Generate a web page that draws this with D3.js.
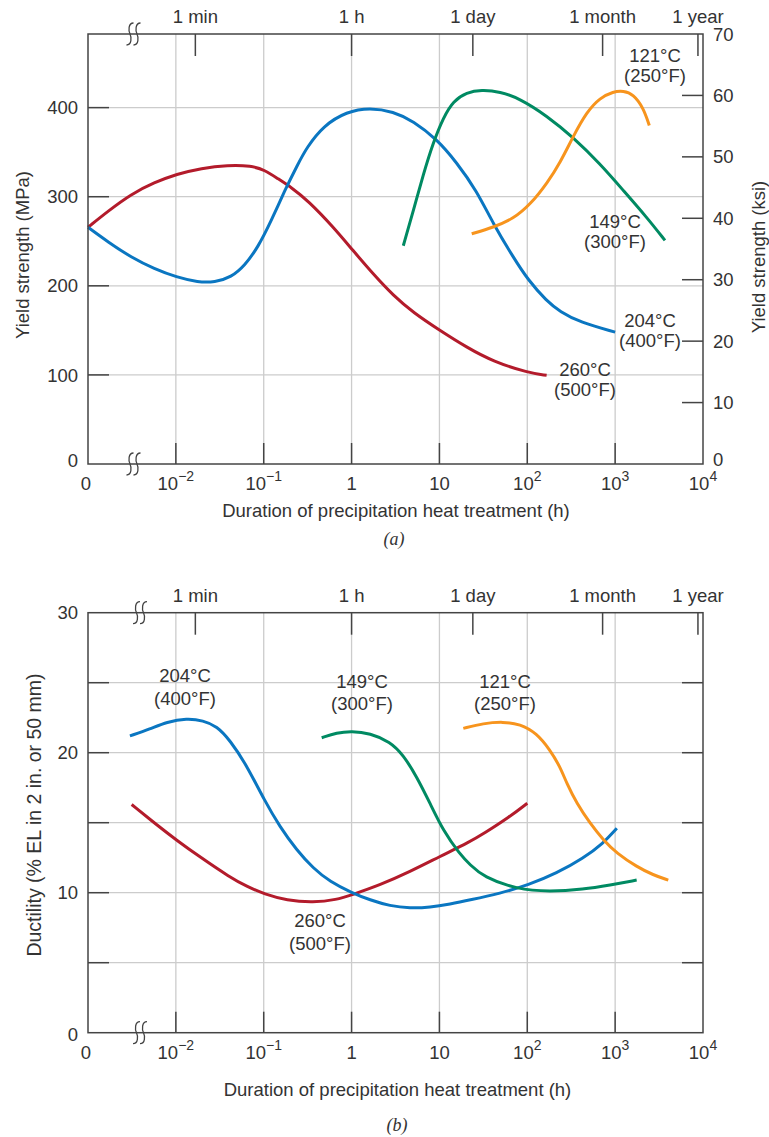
<!DOCTYPE html>
<html><head><meta charset="utf-8">
<script src="https://cdn.jsdelivr.net/npm/d3@7"></script>
<style>
body{margin:0;background:#fff}
text{font-family:"Liberation Sans",Arial,sans-serif;fill:#333;font-size:18.5px}
</style>
</head><body>
<svg id="c" width="769" height="1137"></svg>
<script>
// ---------------- DATA ----------------
const xTickValues = [0, 0.01, 0.1, 1, 10, 100, 1000, 10000];
const xTickBase   = ["0", "10", "10", "1", "10", "10", "10", "10"];
const xTickExp    = ["", "−2", "−1", "", "", "2", "3", "4"];
const gridDecades = [0.01, 0.1, 1, 10, 100, 1000];
const timeMarkLabels = ["1 min", "1 h", "1 day", "1 month", "1 year"];
const timeMarkHours  = [1/60, 1, 24, 720, 8760];

// (a) yield strength axes
const mpaTicks = [0, 100, 200, 300, 400];
const ksiTicks = [0, 10, 20, 30, 40, 50, 60, 70];
const ksiMax = 70;
const mpaPerKsi = 6.894757;

// (a) yield strength curves  [hours, MPa]
const yield260 = [[0,265.7],[0.0017,284],[0.0031,303],[0.0057,316],[0.0102,325.4],[0.0195,332],[0.039,335.5],[0.072,334.8],[0.1026,330],[0.146,320],[0.206,310.5],[0.32,295.6],[0.62,266],[1.03,240],[1.77,213],[2.99,189],[5.04,170],[10.1,150],[20.4,131],[41,115],[103,102.3],[166,99.5]];
const yield204 = [[0,265.7],[0.0017,249],[0.0031,232],[0.0057,219],[0.0102,209.7],[0.0179,204],[0.0277,204],[0.0428,209.7],[0.0608,222.8],[0.0861,243.3],[0.122,273],[0.173,306.8],[0.2455,336.7],[0.308,355],[0.476,379.6],[0.879,395.6],[1.62,400],[2.99,395.6],[5.04,385],[9.31,364.7],[15.7,338.5],[26.5,306.8],[41,269.5],[69.3,232],[103,206],[166,183],[236,171],[398,159],[1000,148]];
const yield149 = [[3.88,245],[5.04,284],[6.55,325],[8.51,361],[11.1,389],[14.4,407.6],[20.4,417],[30,420],[48.9,418],[82.6,410],[166,391],[334,366.5],[672,337],[1239,307],[2286,277],[3690,251]];
const yield121 = [[23.3,258.4],[41,265.7],[69.3,275],[110,292],[170,316],[236,338],[334,368],[474,395],[672,411],[953,418],[1239,419],[1610,415],[2090,400],[2448,380]];

// (b) ductility axes
const ductTicks = [0, 5, 10, 15, 20, 25, 30];
const ductLabels = [0, 10, 20, 30];

// (b) ductility curves  [hours, %EL]
const duct204 = [[0.003,21.2],[0.0051,21.7],[0.0079,22.2],[0.0133,22.45],[0.0205,22.3],[0.0292,21.9],[0.0413,20.9],[0.064,19.1],[0.1017,16.6],[0.153,14.7],[0.237,13.05],[0.366,11.74],[0.567,10.79],[1.0,10.0],[1.62,9.48],[2.74,9.05],[4.62,8.89],[7.81,8.96],[13.2,9.19],[22.3,9.48],[48.9,9.95],[103,10.55],[216,11.39],[434,12.46],[733,13.53],[1045,14.6]];
const duct260 = [[0.00314,16.3],[0.00605,14.85],[0.0102,13.75],[0.0188,12.55],[0.0413,11.1],[0.064,10.45],[0.1017,9.9],[0.183,9.45],[0.366,9.3],[0.678,9.5],[1.0,9.84],[2.11,10.55],[4.62,11.5],[10,12.57],[22.3,13.64],[31.6,14.2],[63.5,15.43],[100,16.39]];
const duct149 = [[0.457,21.07],[0.678,21.43],[1.0,21.55],[1.62,21.39],[2.74,20.79],[3.88,19.84],[5.51,18.29],[7.81,16.39],[11.1,14.4],[17.1,12.75],[22.3,12.0],[31.6,11.14],[75.7,10.24],[181,10.07],[434,10.24],[874,10.55],[1758,10.9]];
const duct121 = [[18.7,21.74],[31.6,22.1],[53.3,22.21],[82.6,22.05],[128,21.39],[181,20.2],[236,19.0],[281,17.81],[365,16.39],[517,14.96],[733,13.76],[1045,12.81],[1758,11.86],[2718,11.26],[4025,10.9]];

const tempC = ["260°C", "204°C", "149°C", "121°C"];
const tempF = ["(500°F)", "(400°F)", "(300°F)", "(250°F)"];

// ---------------- STYLE / LAYOUT ----------------
const colors = {"260":"#b31b2b","204":"#0a76c1","149":"#008a62","121":"#f7941d"};
const axisColor = "#444";
const gridColor = "#cccccc";

const svg = d3.select("#c");

function makeX(p){ return d3.scaleLog().domain([1e-3, 1e4]).range([p.left, p.right]); }
function xPos(x, t){ return t === 0 ? x.range()[0] : x(t); }

function breakMark(g, cx, cy){
  [-3.5, 3.5].forEach(dx => {
    const x0 = cx + dx;
    g.append("path")
      .attr("d", `M${x0+3.5},${cy-11} C${x0-2},${cy-11} ${x0-1.5},${cy-3} ${x0},${cy} S${x0+2},${cy+11} ${x0-3.5},${cy+11}`)
      .attr("fill","none").attr("stroke", axisColor).attr("stroke-width",1.3);
  });
}

function drawPanel(p){
  const g = svg.append("g");
  const x = makeX(p);
  const y = p.y;
  g.selectAll(".vg").data(gridDecades).join("line")
    .attr("x1", d=>x(d)).attr("x2", d=>x(d)).attr("y1", p.top).attr("y2", p.bottom)
    .attr("stroke", gridColor).attr("stroke-width", 1.3);
  g.selectAll(".hg").data(p.hGrid).join("line")
    .attr("x1", p.left).attr("x2", p.right).attr("y1", d=>y(d)).attr("y2", d=>y(d))
    .attr("stroke", gridColor).attr("stroke-width", 1.3);
  const line = d3.line().x(d=>xPos(x,d[0])).y(d=>y(d[1])).curve(d3.curveBasis);
  p.curves.forEach(c => {
    g.append("path").datum(c.data).attr("d", line)
      .attr("fill","none").attr("stroke", colors[c.key]).attr("stroke-width", 3);
  });
  g.append("rect").attr("x", p.left).attr("y", p.top).attr("width", p.right-p.left).attr("height", p.bottom-p.top)
    .attr("fill","none").attr("stroke", axisColor).attr("stroke-width", 1.5);
  g.selectAll(".bt").data(gridDecades).join("line")
    .attr("x1", d=>x(d)).attr("x2", d=>x(d)).attr("y1", p.bottom).attr("y2", p.bottom-21)
    .attr("stroke", axisColor).attr("stroke-width", 1.5);
  g.selectAll(".tt").data(timeMarkHours).join("line")
    .attr("x1", d=>x(d)).attr("x2", d=>x(d)).attr("y1", p.top).attr("y2", p.top+22)
    .attr("stroke", axisColor).attr("stroke-width", 1.5);
  g.selectAll(".tl").data(timeMarkLabels).join("text")
    .attr("x", (d,i)=>x(timeMarkHours[i])).attr("y", p.top-11)
    .attr("text-anchor","middle").text(d=>d);
  xTickValues.forEach((v,i) => {
    const t = g.append("text").attr("x", xPos(x,v) - (i===0?2:0)).attr("y", p.bottom+26).attr("text-anchor","middle");
    t.append("tspan").text(xTickBase[i]);
    if (xTickExp[i]) t.append("tspan").attr("dy", -9).style("font-size","14px").text(xTickExp[i]);
  });
  g.selectAll(".lt").data(p.leftTicks.filter(d=>d>0 && d<y.domain()[1]-1e-6)).join("line")
    .attr("x1", p.left).attr("x2", p.left+21).attr("y1", d=>y(d)).attr("y2", d=>y(d))
    .attr("stroke", axisColor).attr("stroke-width", 1.5);
  g.selectAll(".ll").data(p.leftLabels).join("text")
    .attr("x", p.left-10).attr("y", d=> y(d) + 6.6 + (d===0 ? p.zeroShift : 0))
    .attr("text-anchor","end").text(d=>d);
  const yr = p.yRight || y;
  g.selectAll(".rt").data(p.rightTicks.filter(d=>d>0 && d<yr.domain()[1]-1e-6)).join("line")
    .attr("x1", p.right-21).attr("x2", p.right).attr("y1", d=>yr(d)).attr("y2", d=>yr(d))
    .attr("stroke", axisColor).attr("stroke-width", 1.5);
  if (p.rightLabels){
    g.selectAll(".rl").data(p.rightLabels).join("text")
      .attr("x", p.right+10).attr("y", d=> yr(d) + 6.6 + (d===0 ? p.zeroShift - 1 : 0))
      .attr("text-anchor","start").text(d=>d);
  }
  breakMark(g, p.breakX, p.top);
  breakMark(g, p.breakX, p.bottom);
  g.append("text").attr("x", p.xTitleX).attr("y", p.xTitleY).attr("text-anchor","middle")
    .text("Duration of precipitation heat treatment (h)");
  g.append("text").attr("x", p.capX).attr("y", p.capY).attr("text-anchor","middle")
    .style("font-family","'Liberation Serif',serif").style("font-style","italic").style("font-size","18px")
    .text(p.caption);
  p.temps.forEach(tl => {
    const t = g.append("text").attr("text-anchor","middle");
    t.append("tspan").attr("x", tl.x).attr("y", tl.y).text(tempC[tl.i]);
    t.append("tspan").attr("x", tl.x).attr("y", tl.y + tl.dy).text(tempF[tl.i]);
  });
  return g;
}

// Panel (a)
const pa = {left:88, right:703, top:34, bottom:464};
pa.yRight = d3.scaleLinear().domain([0, ksiMax]).range([pa.bottom, pa.top]);
pa.y = d3.scaleLinear().domain([0, ksiMax*mpaPerKsi]).range([pa.bottom, pa.top]);
Object.assign(pa, {
  hGrid: mpaTicks.filter(d=>d>0), leftTicks: mpaTicks, leftLabels: mpaTicks,
  rightTicks: ksiTicks, rightLabels: ksiTicks, zeroShift: -4,
  breakX: 133.5, xTitleX: 396, xTitleY: 516.5, capX: 394, capY: 545, caption: "(a)",
  curves: [{key:"260",data:yield260},{key:"204",data:yield204},{key:"149",data:yield149},{key:"121",data:yield121}],
  temps: [{i:3,x:655,y:62,dy:20},{i:2,x:615,y:228,dy:20},{i:1,x:650,y:327,dy:20},{i:0,x:585,y:376,dy:20}]
});
drawPanel(pa);
svg.append("text").attr("transform","translate(29,255) rotate(-90)").attr("text-anchor","middle").text("Yield strength (MPa)");
svg.append("text").attr("transform","translate(765,257) rotate(-90)").attr("text-anchor","middle").text("Yield strength (ksi)");

// Panel (b)
const pb = {left:88, right:703, top:612.7, bottom:1032.7};
pb.y = d3.scaleLinear().domain([0, 30]).range([pb.bottom, pb.top]);
Object.assign(pb, {
  hGrid: ductTicks.filter(d=>d>0 && d<30), leftTicks: ductTicks, leftLabels: ductLabels,
  rightTicks: ductTicks, rightLabels: null, zeroShift: 2,
  breakX: 140, xTitleX: 397.5, xTitleY: 1096, capX: 397, capY: 1131, caption: "(b)",
  curves: [{key:"260",data:duct260},{key:"204",data:duct204},{key:"149",data:duct149},{key:"121",data:duct121}],
  temps: [{i:1,x:185,y:682,dy:23},{i:2,x:362,y:688,dy:22},{i:3,x:505,y:688,dy:22},{i:0,x:320,y:927,dy:23}]
});
drawPanel(pb);
svg.append("text").attr("transform","translate(41,815) rotate(-90)").attr("text-anchor","middle")
  .style("font-size","19.5px").text("Ductility (% EL in 2 in. or 50 mm)");
</script>
</body></html>
